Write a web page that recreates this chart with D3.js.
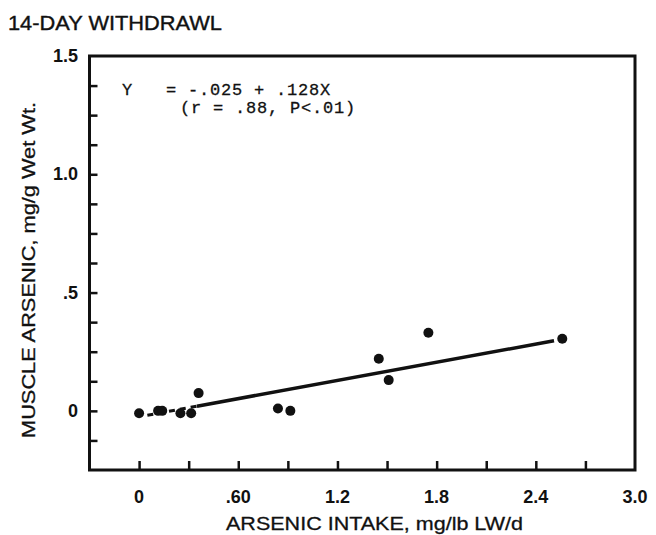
<!DOCTYPE html>
<html>
<head>
<meta charset="utf-8">
<script src="https://cdn.jsdelivr.net/npm/d3@7"></script>
<style>
  body { margin: 0; background: #fff; }
  svg { display: block; }
</style>
</head>
<body>
<svg id="chart" width="656" height="535"></svg>
<script>
// + -- data ---------------------------------------------------------------- +
let intake = [0.0, 0.115, 0.14, 0.25, 0.315, 0.36, 0.84, 0.915, 1.45, 1.51, 1.75, 2.56]
let muscle = [-0.01, 0.0, 0.0, -0.01, -0.01, 0.075, 0.01, 0.0, 0.22, 0.13, 0.33, 0.305]
let fitIntercept = -0.025
let fitSlope = 0.128
let fitDashed = [0.05, 0.35]   // dashed extension of the fit
let fitSolid = [0.35, 2.51]
let xTicks = [0, 0.3, 0.6, 0.9, 1.2, 1.5, 1.8, 2.1, 2.4, 2.7]
let xLabelVals = [0, 0.6, 1.2, 1.8, 2.4, 3.0]
let xLabelText = ['0', '.60', '1.2', '1.8', '2.4', '3.0']
let yTicks = [-0.125, 0, 0.125, 0.25, 0.375, 0.5, 0.625, 0.75, 0.875, 1.0, 1.125, 1.25, 1.375]
let yLabelVals = [0, 0.5, 1.0, 1.5]
let yLabelText = ['0', '.5', '1.0', '1.5']

const INK = '#111'
const SANS = 'Liberation Sans, Arial, Helvetica, sans-serif'
const MONO = 'Liberation Mono, Courier New, monospace'

let svg = d3.select('#chart')

let x = d3.scaleLinear().domain([-0.3, 3.0]).range([89.5, 635])
let y = d3.scaleLinear().domain([-0.25, 1.5]).range([470, 56])

// + -- frame --------------------------------------------------------------- +
svg.append('rect')
  .attr('x', x(-0.3))
  .attr('y', y(1.5))
  .attr('width', x(3.0) - x(-0.3))
  .attr('height', y(-0.25) - y(1.5))
  .attr('fill', 'none')
  .attr('stroke', INK)
  .attr('stroke-width', 3)

// ticks point inward, labels are drawn separately
let xAxis = d3.axisTop(x).tickValues(xTicks).tickSize(9).tickFormat('')
svg.append('g')
  .attr('transform', 'translate(0,' + y(-0.25) + ')')
  .call(xAxis)
  .call(g => g.select('.domain').remove())
  .call(g => g.selectAll('line').attr('stroke', INK).attr('stroke-width', 2.5))

let yAxis = d3.axisRight(y).tickValues(yTicks).tickSize(8).tickFormat('')
svg.append('g')
  .attr('transform', 'translate(' + x(-0.3) + ',0)')
  .call(yAxis)
  .call(g => g.select('.domain').remove())
  .call(g => g.selectAll('line').attr('stroke', INK).attr('stroke-width', 2.5))

svg.append('g').selectAll('text')
  .data(xLabelVals)
  .join('text')
  .attr('x', d => x(d))
  .attr('y', 503)
  .attr('text-anchor', 'middle')
  .attr('font-family', SANS)
  .attr('font-size', 18)
  .attr('font-weight', 700)
  .attr('fill', INK)
  .text((d, i) => xLabelText[i])

svg.append('g').selectAll('text')
  .data(yLabelVals)
  .join('text')
  .attr('x', 78)
  .attr('y', d => y(d) + 6)
  .attr('text-anchor', 'end')
  .attr('font-family', SANS)
  .attr('font-size', 18)
  .attr('font-weight', 700)
  .attr('fill', INK)
  .text((d, i) => yLabelText[i])

// + -- titles -------------------------------------------------------------- +
svg.append('text')
  .attr('x', 8)
  .attr('y', 30)
  .attr('font-family', SANS)
  .attr('font-size', 21)
  .attr('fill', INK)
  .attr('stroke', INK)
  .attr('stroke-width', 0.4)
  .attr('textLength', 214)
  .attr('lengthAdjust', 'spacingAndGlyphs')
  .text('14-DAY WITHDRAWL')

svg.append('text')
  .attr('x', 226)
  .attr('y', 530)
  .attr('font-family', SANS)
  .attr('font-size', 19)
  .attr('fill', INK)
  .attr('stroke', INK)
  .attr('stroke-width', 0.3)
  .attr('textLength', 297)
  .attr('lengthAdjust', 'spacingAndGlyphs')
  .text('ARSENIC INTAKE, mg/lb LW/d')

svg.append('text')
  .attr('transform', 'translate(35,438) rotate(-90)')
  .attr('font-family', SANS)
  .attr('font-size', 18)
  .attr('fill', INK)
  .attr('stroke', INK)
  .attr('stroke-width', 0.3)
  .attr('textLength', 336)
  .attr('lengthAdjust', 'spacingAndGlyphs')
  .text('MUSCLE ARSENIC, mg/g Wet Wt.')

// + -- regression note ----------------------------------------------------- +
let note = [
  {tx: 122, ty: 95, s: 'Y   = -.025 + .128X'},
  {tx: 180, ty: 113, s: '(r = .88, P<.01)'}
]
svg.append('g').selectAll('text')
  .data(note)
  .join('text')
  .attr('x', d => d.tx)
  .attr('y', d => d.ty)
  .attr('font-family', MONO)
  .attr('font-size', 17)
  .attr('letter-spacing', 0.8)
  .attr('fill', INK)
  .attr('stroke', INK)
  .attr('stroke-width', 0.3)
  .style('white-space', 'pre')
  .text(d => d.s)

// + -- fit line ------------------------------------------------------------ +
let fit = v => fitIntercept + fitSlope * v
let line = d3.line().x(d => x(d)).y(d => y(fit(d)))

svg.append('path')
  .datum(fitDashed)
  .attr('d', line)
  .attr('fill', 'none')
  .attr('stroke', INK)
  .attr('stroke-width', 3)
  .attr('stroke-dasharray', '6,5')

svg.append('path')
  .datum(fitSolid)
  .attr('d', line)
  .attr('fill', 'none')
  .attr('stroke', INK)
  .attr('stroke-width', 3.5)

// + -- points -------------------------------------------------------------- +
svg.append('g').selectAll('circle')
  .data(intake)
  .join('circle')
  .attr('cx', d => x(d))
  .attr('cy', (d, i) => y(muscle[i]))
  .attr('r', 5)
  .attr('fill', INK)
</script>
</body>
</html>
